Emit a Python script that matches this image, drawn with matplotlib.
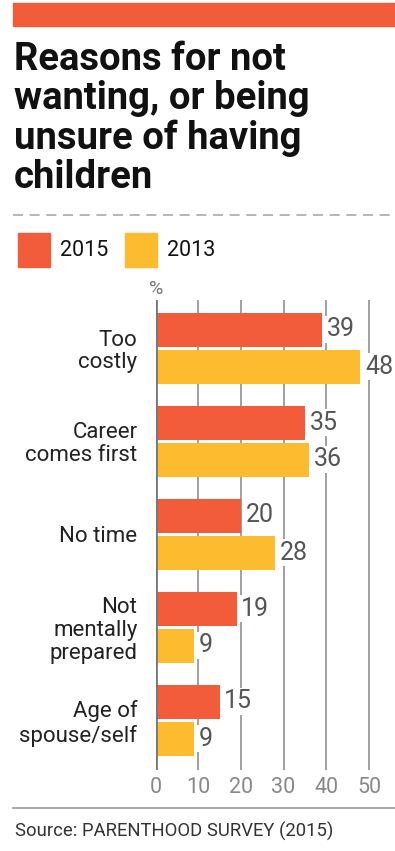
import matplotlib.pyplot as plt
from matplotlib.patches import Rectangle
from matplotlib.lines import Line2D

categories = ['Too\ncostly', 'Career\ncomes first', 'No time',
              'Not\nmentally\nprepared', 'Age of\nspouse/self']
values_2015 = [39, 35, 20, 19, 15]
values_2013 = [48, 36, 28, 9, 9]
series_labels = ['2015', '2013']
x_ticks = [0, 10, 20, 30, 40, 50]

ORANGE = '#F25C3B'
YELLOW = '#FDBB30'
W, H = 395, 851

plt.rcParams['font.family'] = ['Roboto', 'DejaVu Sans']

fig = plt.figure(figsize=(W / 100, H / 100), dpi=100)


def fx(px):
    return px / W


def fy(py):
    return 1 - py / H


# top banner
fig.patches.append(Rectangle((fx(13), fy(26)), fx(395 - 13), 23 / H,
                             transform=fig.transFigure, color=ORANGE, zorder=0))

fig.text(fx(14), fy(41), 'Reasons for not\nwanting, or being\nunsure of having\nchildren',
         fontsize=27.5, fontweight='bold', va='top', ha='left', color='#111111',
         linespacing=1.07)

# dashed separator
fig.add_artist(Line2D([fx(13), fx(395)], [fy(215), fy(215)], transform=fig.transFigure,
                      color='#aaaaaa', lw=1.2, linestyle=(0, (6, 4))))

# legend
for i, (lab, col) in enumerate(zip(series_labels, [ORANGE, YELLOW])):
    x0 = 18 + i * 107
    fig.patches.append(Rectangle((fx(x0), fy(267)), fx(32), 34 / H,
                                 transform=fig.transFigure, color=col))
    fig.text(fx(x0 + 42), fy(251), lab, fontsize=15.5, va='center', ha='left', color='#111111')

fig.text(fx(156), fy(289), '%', fontsize=14, va='center', ha='center', color='#777777')

# chart
ax = fig.add_axes([fx(155.5), fy(770), fx(390 - 155.5), (770 - 300) / H])
px_per_unit = 4.27
ax.set_xlim(0, (390 - 155.5) / px_per_unit)
group = 93.0
ax.set_ylim((770 - 348) / group, (300 - 348) / group)

ys = list(range(len(categories)))
bh = 34 / group
off = 18.5 / group
ax.barh([y - off for y in ys], values_2015, height=bh, color=ORANGE, zorder=3)
ax.barh([y + off for y in ys], values_2013, height=bh, color=YELLOW, zorder=3)

for y, v in zip(ys, values_2015):
    ax.text(v + 1.1, y - off, str(v), va='center', ha='left', fontsize=18, color='#555555',
            zorder=4, bbox=dict(facecolor='white', edgecolor='none', pad=1))
for y, v in zip(ys, values_2013):
    ax.text(v + 1.1, y + off, str(v), va='center', ha='left', fontsize=18, color='#555555',
            zorder=4, bbox=dict(facecolor='white', edgecolor='none', pad=1))

ax.set_yticks(ys)
ax.set_yticklabels(categories, fontsize=16, color='#222222', linespacing=1.12)
ax.tick_params(axis='y', length=0, pad=13)

ax.set_xticks(x_ticks)
ax.set_xticklabels([str(t) for t in x_ticks], fontsize=15.5, color='#888888')
ax.tick_params(axis='x', length=0, pad=5)

for t in x_ticks[1:]:
    ax.axvline(t, color='#999999', lw=1.3, zorder=1)
ax.axvline(0, color='#777777', lw=2, zorder=5)

for s in ax.spines.values():
    s.set_visible(False)

# bottom rule and source
fig.add_artist(Line2D([fx(13), fx(395)], [fy(808), fy(808)], transform=fig.transFigure,
                      color='#999999', lw=1.2))
fig.text(fx(15), fy(831), 'Source: PARENTHOOD SURVEY (2015)', fontsize=13.3,
         va='center', ha='left', color='#333333')

fig.savefig('out.png', dpi=100)
